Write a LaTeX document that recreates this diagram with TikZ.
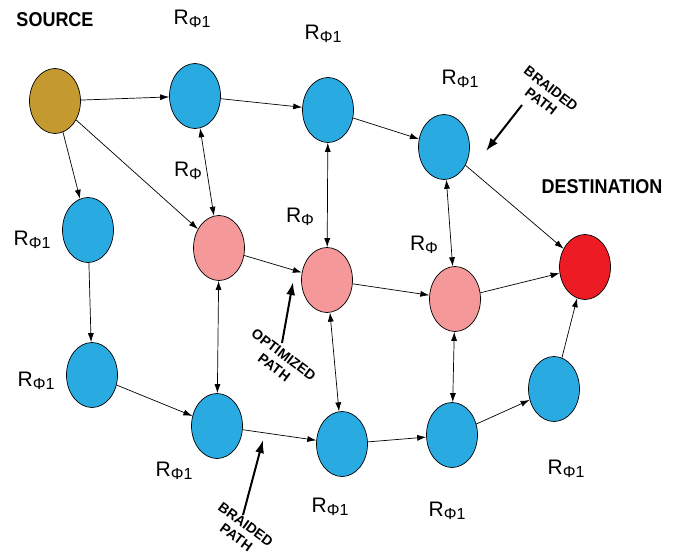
\documentclass[tikz,border=0pt]{standalone}
\usepackage{fontspec}
\setmainfont{Liberation Sans}
\newfontfamily\narrowfont[FakeStretch=0.9]{Liberation Sans}
\usetikzlibrary{arrows.meta,shapes.geometric}
\definecolor{srcgold}{RGB}{196,154,48}
\definecolor{relayblue}{RGB}{41,171,226}
\definecolor{optpink}{RGB}{244,152,154}
\definecolor{dstred}{RGB}{237,28,36}
\newcommand{\rlab}[1]{\fontsize{21}{21}\selectfont R\raisebox{-0.3ex}{\fontsize{16}{16}\selectfont Φ#1}}
\begin{document}
\begin{tikzpicture}[x=1pt,y=-1pt,>={Latex[length=9pt,width=6pt]},line width=0.7pt,
	relay/.style={ellipse,draw,line width=0.7pt,minimum width=51pt,minimum height=65pt,inner sep=0pt},
	note/.style={font=\bfseries\fontsize{14}{16}\selectfont,align=center,inner sep=0pt},
	hint/.style={line width=2pt,-{Latex[length=13pt,width=9pt]}},
	title/.style={font=\narrowfont\bfseries\fontsize{20}{20}\selectfont}]
	\useasboundingbox (0,0) rectangle (688,559);
	% nodes
	\node[relay,fill=srcgold] (src) at (55,101) {};
	\node[relay,fill=relayblue] (a1) at (195,96) {};
	\node[relay,fill=relayblue] (a2) at (328,110) {};
	\node[relay,fill=relayblue] (a3) at (444,147) {};
	\node[relay,fill=dstred] (dst) at (585,267) {};
	\node[relay,fill=relayblue] (l1) at (88,230) {};
	\node[relay,fill=relayblue] (l2) at (92,375) {};
	\node[relay,fill=optpink] (p1) at (219,248) {};
	\node[relay,fill=optpink] (p2) at (327,280) {};
	\node[relay,fill=optpink] (p3) at (455,299) {};
	\node[relay,fill=relayblue] (b1) at (217,426) {};
	\node[relay,fill=relayblue] (b2) at (342,444) {};
	\node[relay,fill=relayblue] (b3) at (452,435) {};
	\node[relay,fill=relayblue] (b4) at (554,389) {};
	% labels
	\node[title] (srclbl) at (55,20) {SOURCE};
	\node[title] (dstlbl) at (602,187) {DESTINATION};
	\node (la1) at (192,19) {\rlab{1}};
	\node (la2) at (323,34) {\rlab{1}};
	\node (la3) at (460,79) {\rlab{1}};
	\node (lp1) at (188,171) {\rlab{}};
	\node (lp2) at (300,217) {\rlab{}};
	\node (lp3) at (424,245) {\rlab{}};
	\node (ll1) at (32,240) {\rlab{1}};
	\node (ll2) at (36,381) {\rlab{1}};
	\node (lb1) at (174,471) {\rlab{1}};
	\node (lb2) at (330,507) {\rlab{1}};
	\node (lb3) at (447,511) {\rlab{1}};
	\node (lb4) at (566,469) {\rlab{1}};
	% links
	\draw[->] (src) -- (a1);
	\draw[->] (a1) -- (a2);
	\draw[->] (a2) -- (a3);
	\draw[->] (a3) -- (dst);
	\draw[->] (src) -- (l1);
	\draw[->] (src) -- (p1);
	\draw[->] (l1) -- (l2);
	\draw[->] (l2) -- (b1);
	\draw[->] (b1) -- (b2);
	\draw[->] (b2) -- (b3);
	\draw[->] (b3) -- (b4);
	\draw[->] (b4) -- (dst);
	\draw[->] (p1) -- (p2);
	\draw[->] (p2) -- (p3);
	\draw[->] (p3) -- (dst);
	\draw[<->] (a1) -- (p1);
	\draw[<->] (a2) -- (p2);
	\draw[<->] (a3) -- (p3);
	\draw[<->] (p1) -- (b1);
	\draw[<->] (p2) -- (b2);
	\draw[<->] (p3) -- (b3);
	% path notes
	\node[note,rotate=-38] (braidtop) at (546,95) {BRAIDED\\PATH};
	\node[note,rotate=-37] (optim) at (279,361) {OPTIMIZED\\PATH};
	\node[note,rotate=-36] (braidbot) at (241,531) {BRAIDED\\PATH};
	\coordinate (bttip) at (486,151);
	\coordinate (optip) at (293,282);
	\coordinate (bbtip) at (263,440);
	\draw[hint] (522,105) -- (bttip);
	\draw[hint] (282,343) -- (optip);
	\draw[hint] (243,515) -- (bbtip);
\end{tikzpicture}
\end{document}
